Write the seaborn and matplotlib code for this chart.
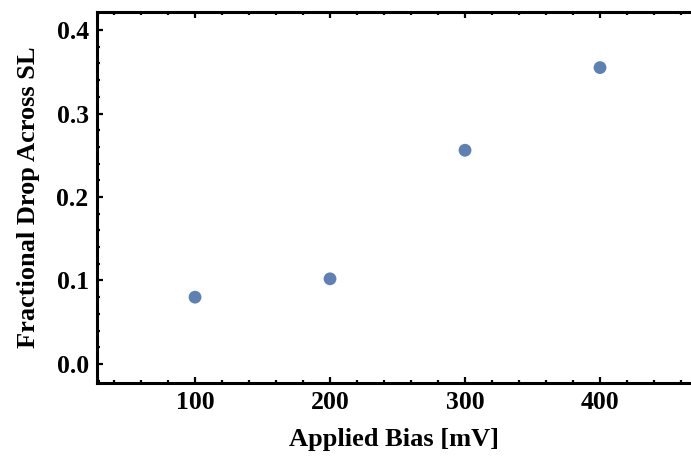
import numpy as np
import pandas as pd
import matplotlib
matplotlib.use('Agg')
import matplotlib.pyplot as plt
import seaborn as sns
from matplotlib.ticker import MultipleLocator, FormatStrFormatter

# Data
bias_mv = [100, 200, 300, 400]
fractional_drop = [0.080, 0.102, 0.256, 0.355]

df = pd.DataFrame({'Applied Bias [mV]': bias_mv,
                   'Fractional Drop Across SL': fractional_drop})

sns.set_style('ticks')
plt.rcParams['font.family'] = ['Liberation Serif', 'DejaVu Serif']
plt.rcParams['font.weight'] = 'bold'
plt.rcParams['text.color'] = 'black'
plt.rcParams['axes.labelcolor'] = 'black'
plt.rcParams['xtick.color'] = 'black'
plt.rcParams['ytick.color'] = 'black'

fig = plt.figure(figsize=(6.91, 4.61), dpi=100)
# frame is cut off on the right in the reference (no right edge visible)
ax = fig.add_axes([0.1404, 0.1692, 1.0 - 0.1404, 0.974 - 0.1692])

sns.scatterplot(data=df, x='Applied Bias [mV]', y='Fractional Drop Across SL',
                ax=ax, color='#5E81B5', s=85, edgecolor='none')

ax.set_xlim(27.4, 467.4)
ax.set_ylim(-0.0228, 0.4216)
ax.xaxis.set_major_locator(MultipleLocator(100))
ax.xaxis.set_minor_locator(MultipleLocator(20))
ax.yaxis.set_major_locator(MultipleLocator(0.1))
ax.yaxis.set_minor_locator(MultipleLocator(0.02))
ax.yaxis.set_major_formatter(FormatStrFormatter('%.1f'))

for side in ['left', 'top', 'bottom']:
    ax.spines[side].set_visible(True)
    ax.spines[side].set_linewidth(2.2)
    ax.spines[side].set_color('black')
ax.spines['right'].set_visible(False)

ax.tick_params(which='both', direction='in', top=True, right=False,
               color='black', width=1.6)
ax.tick_params(which='major', length=4.5, labelsize=18.5, pad=6)
ax.tick_params(which='minor', length=2.5)
for lab in ax.get_xticklabels() + ax.get_yticklabels():
    lab.set_fontweight('bold')

ax.set_xlabel('Applied Bias [mV]', fontsize=19, fontweight='bold', labelpad=10)
ax.set_ylabel('Fractional Drop Across SL', fontsize=19, fontweight='bold', labelpad=12)

fig.savefig('out.png', dpi=100)
